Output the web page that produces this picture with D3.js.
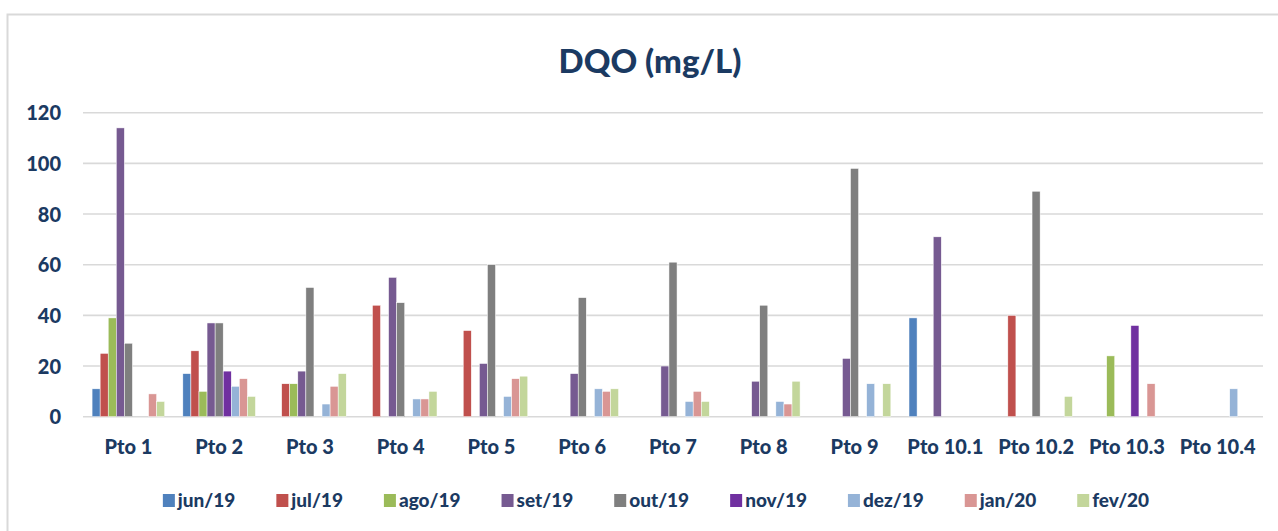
<!DOCTYPE html>
<html>
<head>
<meta charset="utf-8">
<script src="https://cdn.jsdelivr.net/npm/d3@7"></script>
<style>
    html, body { margin: 0; padding: 0; background: #fff; }
    svg text { font-family: Lato, "Open Sans", sans-serif; font-weight: 900; fill: #1B3A62; }
</style>
</head>
<body>
<svg id="chart" width="1278" height="531"></svg>
<script>
var categories = ["Pto 1", "Pto 2", "Pto 3", "Pto 4", "Pto 5", "Pto 6", "Pto 7",
                  "Pto 8", "Pto 9", "Pto 10.1", "Pto 10.2", "Pto 10.3", "Pto 10.4"];

var months = ["jun/19", "jul/19", "ago/19", "set/19", "out/19", "nov/19", "dez/19", "jan/20", "fev/20"];

var month_colors = ["#4F81BD", "#C0504D", "#9BBB59", "#765A91", "#7F7F7F",
                    "#7030A0", "#95B3D7", "#D99694", "#C3D69B"];

/* one array per month, one value per point (null = no sample) */
var jun19 = [11, 17, null, null, null, null, null, null, null, 39, null, null, null];
var jul19 = [25, 26, 13, 44, 34, null, null, null, null, null, 40, null, null];
var ago19 = [39, 10, 13, null, null, null, null, null, null, null, null, 24, null];
var set19 = [114, 37, 18, 55, 21, 17, 20, 14, 23, 71, null, null, null];
var out19 = [29, 37, 51, 45, 60, 47, 61, 44, 98, null, 89, null, null];
var nov19 = [null, 18, null, null, null, null, null, null, null, null, null, 36, null];
var dez19 = [null, 12, 5, 7, 8, 11, 6, 6, 13, null, null, null, 11];
var jan20 = [9, 15, 12, 7, 15, 10, 10, 5, null, null, null, 13, null];
var fev20 = [6, 8, 17, 10, 16, 11, 6, 14, 13, null, 8, null, null];

var y_ticks = [0, 20, 40, 60, 80, 100, 120];

var series_values = [jun19, jul19, ago19, set19, out19, nov19, dez19, jan20, fev20];

var plot_left = 83;
var plot_right = 1263;
var plot_top = 112.7;
var plot_bottom = 416.7;

function draw_chart() {
    var svg = d3.select("svg#chart");

    /* light frame, only left and top edges show in the picture */
    svg.append("path").attr("d", "M7.5,531 L7.5,14.5 L1278,14.5")
        .attr("fill", "none").attr("stroke", "#D9D9D9").attr("stroke-width", 2);

    svg.append("text").attr("x", 650).attr("y", 73).attr("text-anchor", "middle")
        .style("font-size", "33px").text("DQO (mg/L)");

    var x0 = d3.scaleBand().domain(categories).range([plot_left, plot_right])
        .paddingInner(0).paddingOuter(0);
    var x1 = d3.scaleBand().domain(months)
        .range([x0.bandwidth() * 0.1, x0.bandwidth() * 0.9]);
    var y = d3.scaleLinear().domain([0, 120]).range([plot_bottom, plot_top]);

    var grid = svg.append("g").selectAll("line").data(y_ticks).enter().append("line")
        .attr("x1", plot_left).attr("x2", plot_right)
        .attr("y1", function (d) { return y(d); })
        .attr("y2", function (d) { return y(d); })
        .attr("stroke", "#D9D9D9").attr("stroke-width", 1.6);

    var y_axis = d3.axisLeft(y).tickValues(y_ticks).tickSize(0).tickPadding(22);
    var ya = svg.append("g").attr("transform", "translate(" + plot_left + ",0)").call(y_axis);
    ya.select(".domain").remove();
    ya.selectAll("text").style("font-size", "20px").attr("dy", "0.35em");

    var x_axis = d3.axisBottom(x0).tickSize(0).tickPadding(23);
    var xa = svg.append("g").attr("transform", "translate(0," + plot_bottom + ")").call(x_axis);
    xa.select(".domain").remove();
    xa.selectAll("text").style("font-size", "20px").attr("dy", "0.71em");

    var bars = [];
    series_values.forEach(function (vals, s) {
        vals.forEach(function (v, i) {
            if (v != null) {
                bars.push({ cat: categories[i], month: months[s], value: v, color: month_colors[s] });
            }
        });
    });

    svg.append("g").selectAll("rect").data(bars).enter().append("rect")
        .attr("x", function (d) { return x0(d.cat) + x1(d.month); })
        .attr("width", x1.bandwidth())
        .attr("y", function (d) { return y(d.value); })
        .attr("height", function (d) { return plot_bottom - y(d.value); })
        .attr("fill", function (d) { return d.color; })
        .attr("stroke", "#fff").attr("stroke-width", 0.5);

    /* legend: items laid out by text width, centred under the plot */
    var legend = svg.append("g");
    var items = legend.selectAll("g").data(months).enter().append("g");
    items.append("rect").attr("width", 12).attr("height", 13).attr("y", -13)
        .attr("fill", function (d, i) { return month_colors[i]; });
    items.append("text").attr("x", 15).attr("y", 0).style("font-size", "19px")
        .text(function (d) { return d; });
    var gap = 41;
    var pos = 0;
    var offsets = [];
    items.each(function () {
        var w = this.getBBox().width;
        offsets.push(pos);
        pos += w + gap;
    });
    var total = pos - gap;
    var start = 656 - total / 2;
    items.attr("transform", function (d, i) {
        return "translate(" + (start + offsets[i]) + ",507)";
    });
}

window.onload = function () {
    draw_chart();
}
</script>
</body>
</html>
